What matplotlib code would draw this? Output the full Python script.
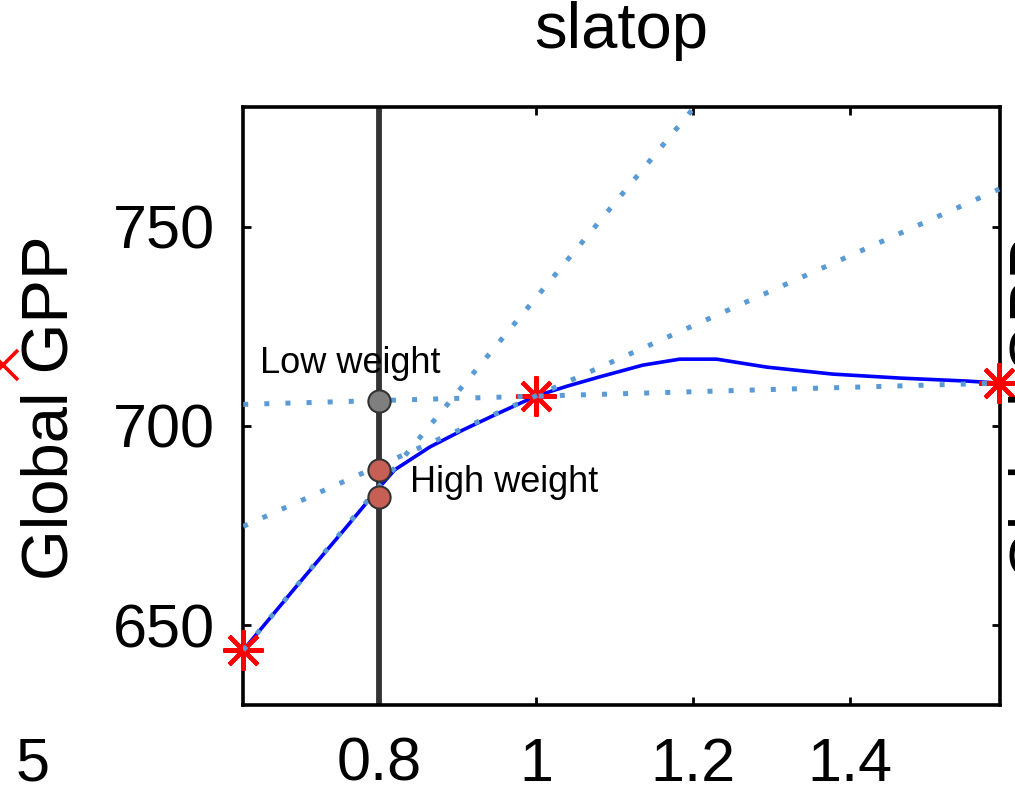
import matplotlib
matplotlib.use('Agg')
import matplotlib.pyplot as plt
import numpy as np

plt.rcParams['font.family'] = ['Liberation Sans', 'DejaVu Sans']
plt.rcParams['lines.scale_dashes'] = False

# response curve of global GPP to slatop
slatop = [0.627, 0.70, 0.76, 0.80, 0.82, 0.865, 0.907, 0.95, 1.0, 1.04,
          1.08, 1.136, 1.183, 1.23, 1.294, 1.378, 1.464, 1.549, 1.59]
gpp = [643.75, 661.0, 675.0, 684.5, 689.0, 694.75, 699.0, 703.0, 707.5, 710.0,
       712.25, 715.25, 716.75, 716.75, 714.75, 713.0, 712.0, 711.25, 710.75]

# min / default / max runs
star_x = [0.627, 1.0, 1.59]
star_y = [643.75, 707.5, 710.75]

# linear approximations (dotted)
lin_x = [0.627, 1.59]
lin_steep = [643.75, 872.0]
lin_mid = [674.8, 759.4]
lin_flat = [705.4, 710.75]

# estimates at slatop = 0.8
x_test = 0.8
low_w = [706.25]
high_w = [689.0, 682.25]

W, H = 1015, 792
fig = plt.figure(figsize=(W/100, H/100), dpi=100)
ax = fig.add_axes([243/W, 1-705/H, 757/W, 598/H])

ax.plot(slatop, gpp, color='#0000ff', lw=2.6, zorder=3)
ax.axvline(x_test, color='#333333', lw=4.2, zorder=2)
ax.plot(star_x, star_y, ls='none', marker=(8, 2, 0), ms=29, mew=3,
        color='#ff0000', clip_on=False, zorder=4)
dots = dict(color='#5b9bd5', lw=3.6, dashes=(3.6, 11.6), dash_capstyle='butt', zorder=5)
ax.plot(lin_x, lin_steep, **dots)
ax.plot(lin_x, lin_mid, **dots)
ax.plot(lin_x, lin_flat, **dots)
ax.plot([x_test]*len(low_w), low_w, ls='none', marker='o', ms=16,
        mfc='#7f7f7f', mec='#333333', mew=1.5, zorder=6)
ax.plot([x_test]*len(high_w), high_w, ls='none', marker='o', ms=16,
        mfc='#c85f55', mec='#333333', mew=1.5, zorder=6)

ax.text(0.648, 713.25, 'Low weight', fontsize=26, va='baseline', ha='left', zorder=7)
ax.text(0.8394, 683.5, 'High weight', fontsize=26, va='baseline', ha='left', zorder=7)

ax.set_xlim(0.6267, 1.591)
ax.set_ylim(630, 780)
ax.set_xticks([0.8, 1.0, 1.2, 1.4])
ax.set_xticklabels(['0.8', '1', '1.2', '1.4'])
ax.set_yticks([650, 700, 750])
ax.tick_params(direction='in', length=6, width=2, top=True, right=True,
               labelsize=44)
ax.tick_params(axis='y', pad=20)
ax.tick_params(axis='x', pad=23)
for sp in ax.spines.values():
    sp.set_linewidth(2.6)

fig.text(621/W, 1-48/H, 'slatop', fontsize=47, ha='center', va='baseline')
fig.text(68/W, 1-407.5/H, 'Global GPP', fontsize=47, rotation=90,
         rotation_mode='anchor', ha='center', va='baseline')
# pieces of the neighbouring panels
fig.text(1056/W, 1-407.5/H, 'Global GPP', fontsize=47, rotation=90,
         rotation_mode='anchor', ha='center', va='baseline')
fig.text(33/W, 1-765/H, '5', fontsize=44, ha='center', va='center')
fig.lines.append(matplotlib.lines.Line2D([3/W], [1-365/H], transform=fig.transFigure,
                 ls='none', marker='x', ms=22, mew=2.6, color='#ff0000'))

fig.savefig('out.png', dpi=100)
